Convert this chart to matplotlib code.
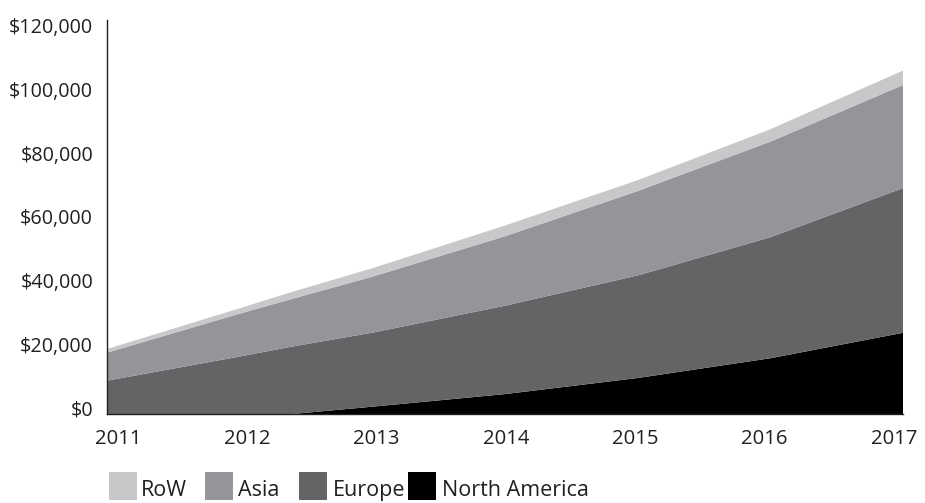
import matplotlib.pyplot as plt
from matplotlib.patches import Rectangle
from matplotlib.ticker import FuncFormatter
import matplotlib.transforms as mtransforms

plt.rcParams['font.family'] = ['Open Sans', 'DejaVu Sans']

# data (values per region, stacked)
years = [2011, 2012, 2012.4, 2013, 2014, 2015, 2016, 2017]
north_america = [0, 0, 0, 2300, 6250, 11300, 17500, 25500]
europe = [10460, 18050, 21200, 23230, 27750, 32200, 37980, 45430]
asia = [8790, 13450, 15000, 17580, 21800, 26500, 30020, 32340]
row = [1150, 1690, 2200, 2640, 3380, 3400, 3890, 4560]

labels = ['RoW', 'Asia', 'Europe', 'North America']
colors = ['#c7c8ca', '#939598', '#636466', '#000000']
year_ticks = [2011, 2012, 2013, 2014, 2015, 2016, 2017]
value_ticks = [0, 20000, 40000, 60000, 80000, 100000, 120000]

fig = plt.figure(figsize=(9.25, 5.03), dpi=100)
ax = fig.add_axes([107 / 925, 89 / 503, 796 / 925, 394 / 503])

# bottom to top: North America, Europe, Asia, RoW
ax.stackplot(years, north_america, europe, asia, row,
             colors=colors[::-1], linewidth=0)

ax.set_xlim(2011, 2017)
ax.set_ylim(0, 123700)
ax.set_xticks(year_ticks)
ax.set_xticklabels([str(y) for y in year_ticks])
ax.set_yticks(value_ticks)
ax.yaxis.set_major_formatter(FuncFormatter(lambda v, p: '${:,.0f}'.format(v)))
ax.tick_params(axis='both', length=0, colors='#231f20')
ax.tick_params(axis='y', pad=10, labelsize=14.2)
ax.tick_params(axis='x', pad=10.5, labelsize=14.6)

# labels sit a little above their value in the original
off = mtransforms.ScaledTranslation(0, 6 / 100, fig.dpi_scale_trans)
for lab in ax.get_yticklabels():
    lab.set_transform(lab.get_transform() + off)
# year labels are spread a bit tighter than the axis
for k, lab in enumerate(ax.get_xticklabels()):
    dx = (11 - 3.37 * k) / 100
    lab.set_transform(lab.get_transform() +
                      mtransforms.ScaledTranslation(dx, 0, fig.dpi_scale_trans))

for s in ['top', 'right']:
    ax.spines[s].set_visible(False)
for s in ['left', 'bottom']:
    ax.spines[s].set_color('#231f20')
    ax.spines[s].set_linewidth(1.0)

# legend row at the bottom
box_x = [109, 205, 299, 408]
text_x = [141, 238, 333, 442]
for i in range(len(labels)):
    fig.add_artist(Rectangle((box_x[i] / 925, 3 / 503), 28 / 925, 28 / 503,
                             transform=fig.transFigure, color=colors[i], lw=0))
    fig.text(text_x[i] / 925, 7 / 503, labels[i], fontsize=15.5,
             color='#231f20', va='baseline', ha='left')

fig.savefig('out.png', dpi=100)
